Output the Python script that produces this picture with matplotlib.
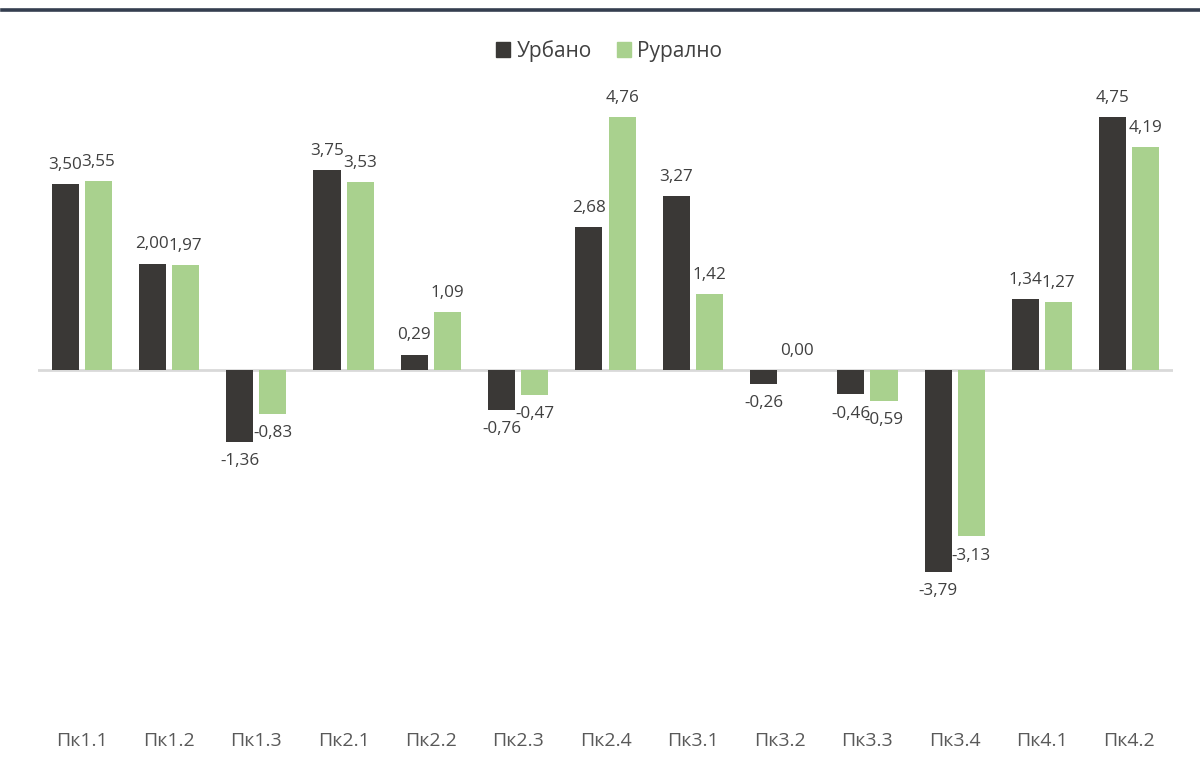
import matplotlib
matplotlib.use("Agg")
import matplotlib.pyplot as plt
from matplotlib.lines import Line2D
from matplotlib.patches import Patch
import numpy as np

categories = ["Пк1.1", "Пк1.2", "Пк1.3", "Пк2.1", "Пк2.2", "Пк2.3", "Пк2.4",
              "Пк3.1", "Пк3.2", "Пк3.3", "Пк3.4", "Пк4.1", "Пк4.2"]
urban = [3.50, 2.00, -1.36, 3.75, 0.29, -0.76, 2.68, 3.27, -0.26, -0.46, -3.79, 1.34, 4.75]
rural = [3.55, 1.97, -0.83, 3.53, 1.09, -0.47, 4.76, 1.42, 0.00, -0.59, -3.13, 1.27, 4.19]
series_names = ["Урбано", "Рурално"]

c_urban = "#3A3836"
c_rural = "#A9D18E"
txt = "#404040"

plt.rcParams['font.family'] = ['Open Sans', 'DejaVu Sans']

fig = plt.figure(figsize=(12, 7.7), dpi=100)
ax = fig.add_axes([38/1200, 0.105, (1173-38)/1200, 0.76])

x = np.arange(len(categories))
w = 0.31
off = 0.19
b1 = ax.bar(x - off, urban, w, color=c_urban, zorder=3)
b2 = ax.bar(x + off, rural, w, color=c_rural, zorder=3)

ax.set_xlim(-0.5, len(categories) - 0.5)
ax.set_ylim(-6, 5)
ax.axhline(0, color="#D9D9D9", lw=2, zorder=2)

def fmt(v):
    return f"{v:.2f}".replace(".", ",")

for bars, vals in ((b1, urban), (b2, rural)):
    for b, v in zip(bars, vals):
        cx = b.get_x() + b.get_width() / 2
        if v >= 0:
            ax.annotate(fmt(v), (cx, v), xytext=(0, 8), textcoords="offset points",
                        ha="center", va="bottom", fontsize=12.3, color=txt)
        else:
            ax.annotate(fmt(v), (cx, v), xytext=(0, -8), textcoords="offset points",
                        ha="center", va="top", fontsize=12.3, color=txt)

ax.set_xticks(x)
ax.set_xticklabels(categories, fontsize=14, color="#595959")
ax.tick_params(axis="x", length=0, pad=31)
ax.set_yticks([])
for s in ax.spines.values():
    s.set_visible(False)

handles = [Patch(color=c_urban), Patch(color=c_rural)]
fig.legend(handles, series_names, loc="center", bbox_to_anchor=(0.5 + 9/1200, 1 - 51/770),
           ncol=2, frameon=False, fontsize=15, handlelength=0.7, handleheight=0.7,
           handletextpad=0.3, columnspacing=1.2, labelcolor=txt)

fig.add_artist(Line2D([2/1200, 1.0], [1 - 9.5/770, 1 - 9.5/770], color="#343E4F", lw=2.6))

fig.savefig("out.png", dpi=100, facecolor="white")
